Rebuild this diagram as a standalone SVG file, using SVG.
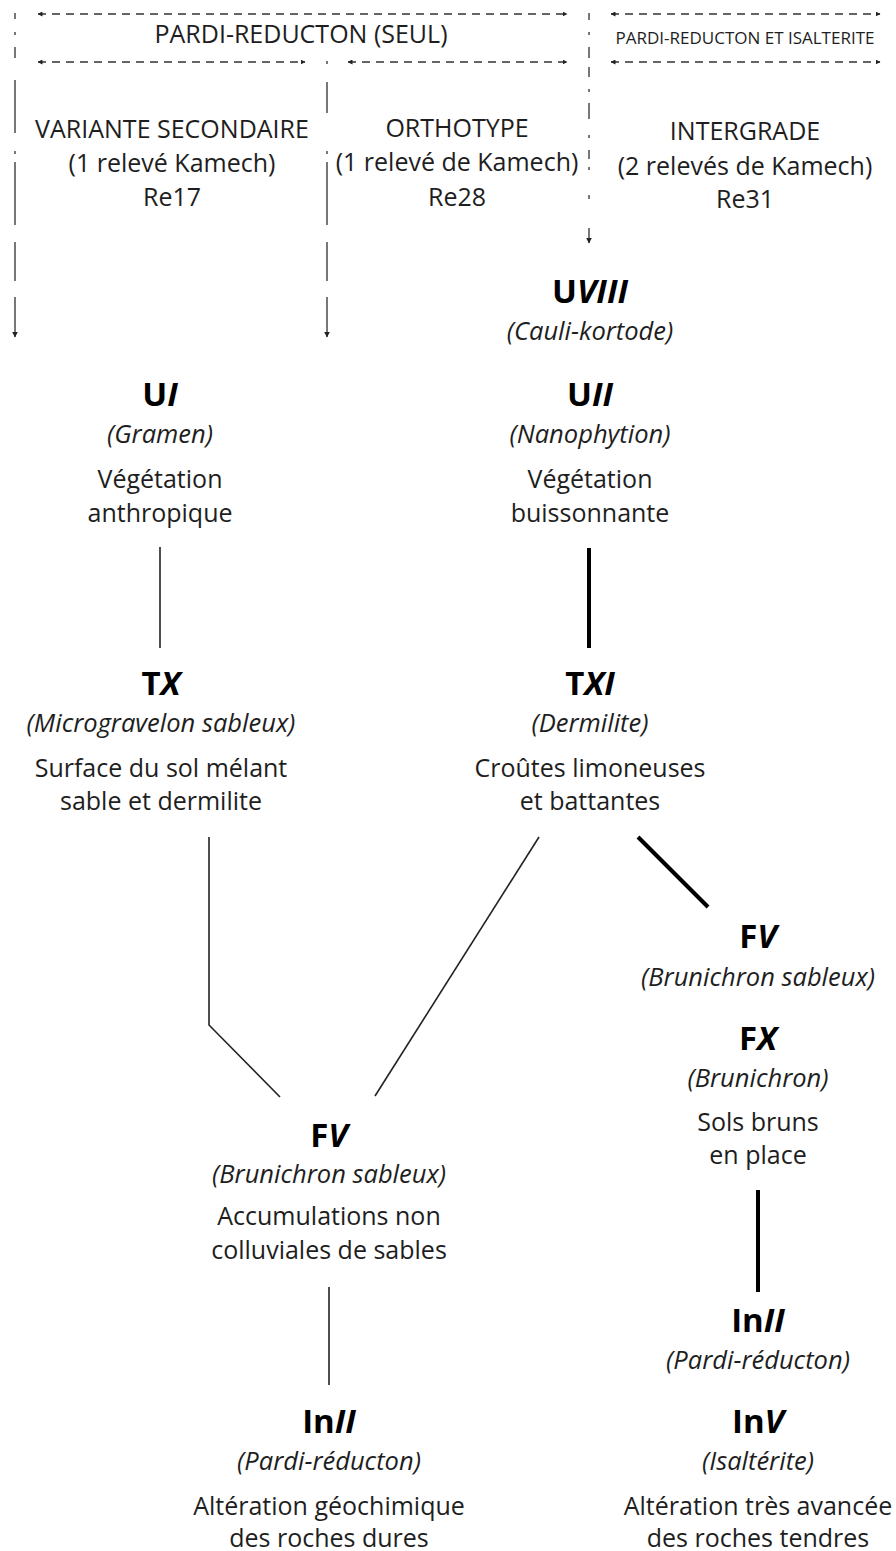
<svg xmlns="http://www.w3.org/2000/svg" width="896" height="1551" viewBox="0 0 896 1551">
<defs>
<marker id="ah" viewBox="0 0 10 10" refX="9" refY="5" markerWidth="5" markerHeight="5" markerUnits="userSpaceOnUse" orient="auto-start-reverse">
<path d="M0,0 L10,5 L0,10 z" fill="#222"/>
</marker>
<marker id="av" viewBox="0 0 10 10" refX="9" refY="5" markerWidth="6" markerHeight="6" markerUnits="userSpaceOnUse" orient="auto">
<path d="M0,0 L10,5 L0,10 z" fill="#222"/>
</marker>
<style>
text{font-family:"Open Sans","Noto Sans",sans-serif;fill:#1e1e1e;text-anchor:middle}
.r{font-size:25px}
.it{font-size:25.5px;font-style:italic}
.b{font-size:33px;font-weight:700;fill:#000}
.bi{font-style:italic}
.hs{font-size:17px}
.dash{stroke:#333;stroke-width:1.7;fill:none;stroke-dasharray:8 6}
.vd{stroke:#777;stroke-width:2;fill:none}
.thin{stroke:#222;stroke-width:1.6;fill:none}
.thick{stroke:#000;stroke-width:4;fill:none}
</style>
</defs>

<g id="header">
<text class="r" x="301" y="43">PARDI-REDUCTON (SEUL)</text>
<text class="hs" x="745" y="44">PARDI-REDUCTON ET ISALTERITE</text>
</g>

<g id="col1">
<text class="r" x="172" y="138">VARIANTE SECONDAIRE</text>
<text class="r" x="172" y="172">(1 relevé Kamech)</text>
<text class="r" x="172" y="206">Re17</text>
</g>
<g id="col2">
<text class="r" x="457" y="137">ORTHOTYPE</text>
<text class="r" x="457" y="171">(1 relevé de Kamech)</text>
<text class="r" x="457" y="206">Re28</text>
</g>
<g id="col3">
<text class="r" x="745" y="140">INTERGRADE</text>
<text class="r" x="745" y="175">(2 relevés de Kamech)</text>
<text class="r" x="745" y="208">Re31</text>
</g>

<g id="UVIII">
<text class="b" x="590" y="303">U<tspan class="bi">VIII</tspan></text>
<text class="it" x="590" y="340">(Cauli-kortode)</text>
</g>
<g id="UI">
<text class="b" x="160" y="406">U<tspan class="bi">I</tspan></text>
<text class="it" x="160" y="443">(Gramen)</text>
<text class="r" x="160" y="488">Végétation</text>
<text class="r" x="160" y="522">anthropique</text>
</g>
<g id="UII">
<text class="b" x="590" y="406">U<tspan class="bi">II</tspan></text>
<text class="it" x="590" y="443">(Nanophytion)</text>
<text class="r" x="590" y="488">Végétation</text>
<text class="r" x="590" y="522">buissonnante</text>
</g>
<g id="TX">
<text class="b" x="161" y="695">T<tspan class="bi">X</tspan></text>
<text class="it" x="161" y="732">(Microgravelon sableux)</text>
<text class="r" x="161" y="777">Surface du sol mélant</text>
<text class="r" x="161" y="810">sable et dermilite</text>
</g>
<g id="TXI">
<text class="b" x="590" y="695">T<tspan class="bi">XI</tspan></text>
<text class="it" x="590" y="732">(Dermilite)</text>
<text class="r" x="590" y="777">Croûtes limoneuses</text>
<text class="r" x="590" y="810">et battantes</text>
</g>
<g id="FV-right">
<text class="b" x="758" y="948">F<tspan class="bi">V</tspan></text>
<text class="it" x="758" y="986">(Brunichron sableux)</text>
</g>
<g id="FX">
<text class="b" x="758" y="1050">F<tspan class="bi">X</tspan></text>
<text class="it" x="758" y="1087">(Brunichron)</text>
<text class="r" x="758" y="1131">Sols bruns</text>
<text class="r" x="758" y="1164">en place</text>
</g>
<g id="FV-left">
<text class="b" x="329" y="1147">F<tspan class="bi">V</tspan></text>
<text class="it" x="329" y="1183">(Brunichron sableux)</text>
<text class="r" x="329" y="1225">Accumulations non</text>
<text class="r" x="329" y="1259">colluviales de sables</text>
</g>
<g id="InII-left">
<text class="b" x="329" y="1433">In<tspan class="bi">II</tspan></text>
<text class="it" x="329" y="1470">(Pardi-réducton)</text>
<text class="r" x="329" y="1515">Altération géochimique</text>
<text class="r" x="329" y="1547">des roches dures</text>
</g>
<g id="InII-right">
<text class="b" x="758" y="1332">In<tspan class="bi">II</tspan></text>
<text class="it" x="758" y="1369">(Pardi-réducton)</text>
</g>
<g id="InV">
<text class="b" x="758" y="1433">In<tspan class="bi">V</tspan></text>
<text class="it" x="758" y="1470">(Isaltérite)</text>
<text class="r" x="758" y="1515">Altération très avancée</text>
<text class="r" x="758" y="1547">des roches tendres</text>
</g>

<g id="connectors">
<line class="dash" x1="38" y1="14" x2="567" y2="14" marker-start="url(#ah)" marker-end="url(#ah)"/>
<line class="dash" x1="38" y1="62" x2="305" y2="62" marker-start="url(#ah)" marker-end="url(#ah)"/>
<line class="dash" x1="348" y1="62" x2="567" y2="62" marker-start="url(#ah)" marker-end="url(#ah)"/>
<line class="dash" x1="611" y1="14" x2="880" y2="14" marker-start="url(#ah)" marker-end="url(#ah)"/>
<line class="dash" x1="611" y1="62" x2="880" y2="62" marker-start="url(#ah)" marker-end="url(#ah)"/>

<path class="vd" d="M15,13 V19 M15,32 V35 M15,47 V58 M15,80 V133 M15,151 V154 M15,162 V225 M15,242 V281 M15,297 V332"/>
<path class="vd" d="M15,329 V337" marker-end="url(#av)" stroke-width="1.5"/>
<path class="vd" d="M327,61 V64 M327,82 V113 M327,151 V154 M327,162 V225 M327,242 V281 M327,297 V332"/>
<path class="vd" d="M327,329 V337" marker-end="url(#av)" stroke-width="1.5"/>
<path class="vd" d="M589,13 V20 M589,32 V35 M589,47 V58 M589,67 V77 M589,89 V92 M589,103 V119 M589,135 V138 M589,150 V159 M589,167 V170 M589,195 V199 M589,228 V236"/>
<path class="vd" d="M589,232 V243" marker-end="url(#av)" stroke-width="1.5"/>

<line class="thin" x1="160" y1="547" x2="160" y2="648"/>
<line class="thick" x1="589" y1="548" x2="589" y2="648"/>
<polyline class="thin" points="209,837 209,1025 280,1097"/>
<line class="thin" x1="539" y1="837" x2="375" y2="1096"/>
<line class="thick" x1="638" y1="837" x2="708" y2="907"/>
<line class="thin" x1="329" y1="1287" x2="329" y2="1385"/>
<line class="thick" x1="758" y1="1190" x2="758" y2="1292"/>
</g>
</svg>
